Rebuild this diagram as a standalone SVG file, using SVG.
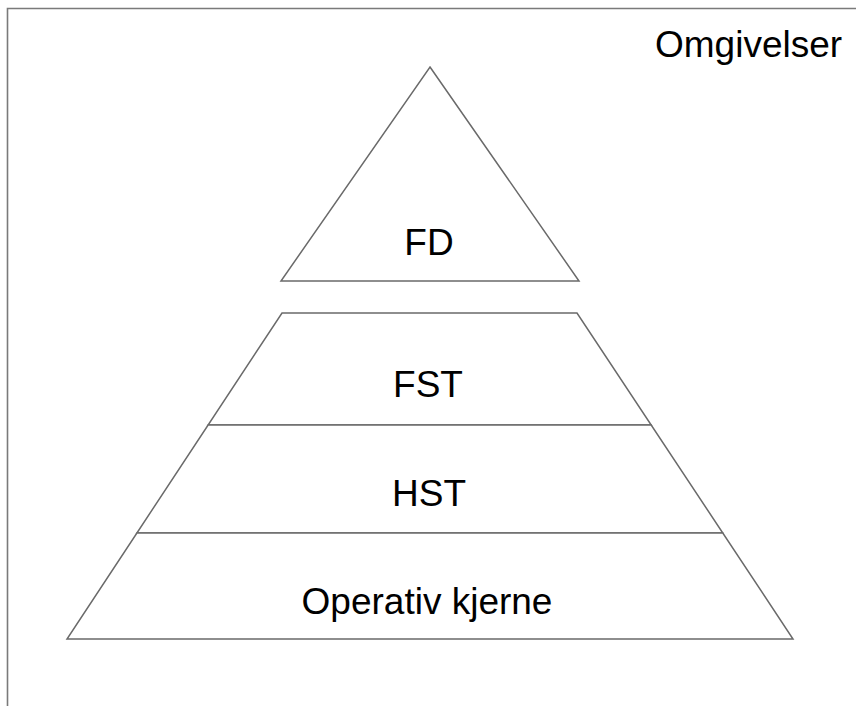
<svg xmlns="http://www.w3.org/2000/svg" width="856" height="706" viewBox="0 0 856 706">
  <style>
    .edge { fill: none; stroke: #7a7a7a; stroke-width: 1.6; stroke-linejoin: miter; }
    .layer { fill: #ffffff; stroke: #6a6a6a; stroke-width: 1.5; stroke-linejoin: miter; }
    .lbl { font-family: "Liberation Sans", Arial, sans-serif; font-size: 37px; fill: #000000; }
    .mid { text-anchor: middle; }
  </style>
  <rect width="856" height="706" fill="#ffffff"/>

  <!-- Environment frame: open on the right and bottom -->
  <g id="omgivelser">
    <path class="edge" d="M7.5,706 V8.5 H856"/>
    <text class="lbl" x="655" y="57">Omgivelser</text>
  </g>

  <!-- Apex: strategic top -->
  <g id="fd">
    <polygon class="layer" points="430,67 579,281 281,281"/>
    <text class="lbl mid" x="429" y="255">FD</text>
  </g>

  <!-- Middle line: upper tier -->
  <g id="fst">
    <polygon class="layer" points="282,313 577,313 651.2,425 208.1,425"/>
    <text class="lbl mid" x="428" y="397">FST</text>
  </g>

  <!-- Middle line: lower tier -->
  <g id="hst">
    <polygon class="layer" points="208.1,425 651.2,425 722.8,533 136.9,533"/>
    <text class="lbl mid" x="429" y="506">HST</text>
  </g>

  <!-- Base: operating core -->
  <g id="operativ-kjerne">
    <polygon class="layer" points="136.9,533 722.8,533 793,639 67,639"/>
    <text class="lbl mid" x="427" y="614">Operativ kjerne</text>
  </g>

  <g id="connectors"/>
</svg>
